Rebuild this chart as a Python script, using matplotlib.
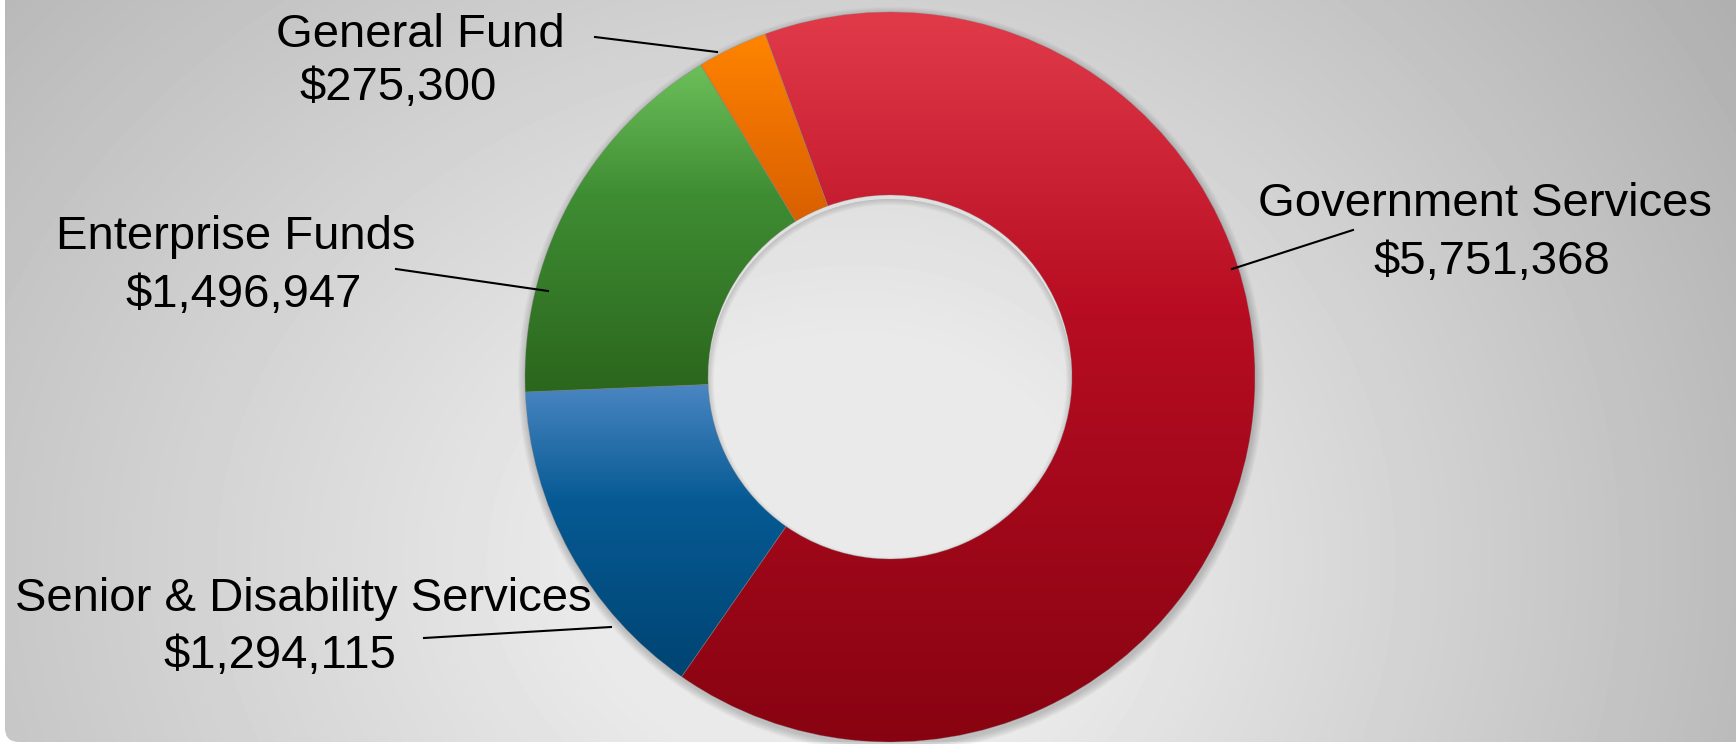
import numpy as np
import matplotlib.pyplot as plt
from matplotlib.patches import FancyBboxPatch, Wedge
from matplotlib.colors import LinearSegmentedColormap

W, H = 1736, 744

# budget by fund
labels = ["Government Services", "Senior & Disability Services", "Enterprise Funds", "General Fund"]
amounts = [5751368, 1294115, 1496947, 275300]

# shades of each ring segment, bottom -> top
shades = [["#880311", "#b80d22", "#e13b4a"],
          ["#004472", "#065a94", "#4a86c2"],
          ["#2b661d", "#3f8d33", "#6cc05a"],
          ["#d96000", "#f07400", "#ff8500"]]

# label placement (pixel coords from the top-left) and leader lines
label_pos = [((1485, 199), (1492, 257)),
             ((303, 594), (280, 651)),
             ((236, 232), (244, 290)),
             ((420, 30), (398, 83))]
leaders = [((1232, 269), (1353, 230)),
           ((424, 638), (611, 627)),
           ((396, 269), (548, 291)),
           ((595, 37), (717, 52))]

CX, CY = 890, H - 377
R, R_IN = 365, 182


def fy(y):
    return H - y


fig = plt.figure(figsize=(W / 100, H / 100), dpi=100, facecolor="white")
ax = fig.add_axes([0, 0, 1, 1])

# grey panel with a soft radial shading
yy, xx = np.mgrid[0:H, 0:W]
sx = np.where(xx < 860, 950.0, 790.0)
d = np.sqrt(((xx - 860) / sx) ** 2 + ((yy - 560) / 750.0) ** 2)
g = 0.915 - 0.22 * np.clip(d - 0.3, 0, None)
bg = ax.imshow(g, cmap="gray", vmin=0, vmax=1, extent=[0, W, 0, H],
               origin="upper", aspect="auto", zorder=0)
panel = FancyBboxPatch((5, 2), W + 60, H + 60, boxstyle="round,pad=0,rounding_size=14",
                       facecolor="none", edgecolor="none")
ax.add_patch(panel)
bg.set_clip_path(panel)

# drop shadow outside the ring and inside the hole
for k in range(1, 9):
    ax.add_patch(Wedge((CX + 1, CY - 3), R + k, 0, 360, width=R + k - R_IN - 20,
                       facecolor="black", alpha=0.022, edgecolor="none", zorder=1))
for k in range(1, 7):
    ax.add_patch(Wedge((CX, CY - 4), R_IN, 0, 360, width=k,
                       facecolor="black", alpha=0.025, edgecolor="none", zorder=1))

wedges, _ = ax.pie(amounts, startangle=110, counterclock=False, radius=R, center=(CX, CY),
                   wedgeprops=dict(width=R - R_IN, edgecolor=(0.5, 0.5, 0.5, 0.35), linewidth=0.6))

ramp = np.linspace(0, 1, 256)[:, None]
for w, cols in zip(wedges, shades):
    ext = w.get_path().get_extents()
    cmap = LinearSegmentedColormap.from_list("shade", list(zip([0, 0.6, 1], cols)))
    im = ax.imshow(ramp, cmap=cmap, extent=[ext.x0, ext.x1, ext.y0, ext.y1],
                   origin="lower", aspect="auto", zorder=2)
    im.set_clip_path(w)
    w.set_facecolor("none")
    w.set_zorder(3)

font = dict(family=["Liberation Sans", "DejaVu Sans"], size=34, color="black")
for name, amt, (p1, p2), (a, b) in zip(labels, amounts, label_pos, leaders):
    ax.text(p1[0], fy(p1[1] + 17), name, ha="center", va="baseline", **font, zorder=5)
    ax.text(p2[0], fy(p2[1] + 17), f"${amt:,}", ha="center", va="baseline", **font, zorder=5)
    ax.plot([a[0], b[0]], [fy(a[1]), fy(b[1])], color="black", lw=1.5, zorder=5)

ax.set_xlim(0, W)
ax.set_ylim(0, H)
ax.set_aspect("equal")
ax.axis("off")

fig.savefig("out.png", dpi=100, facecolor="white")
